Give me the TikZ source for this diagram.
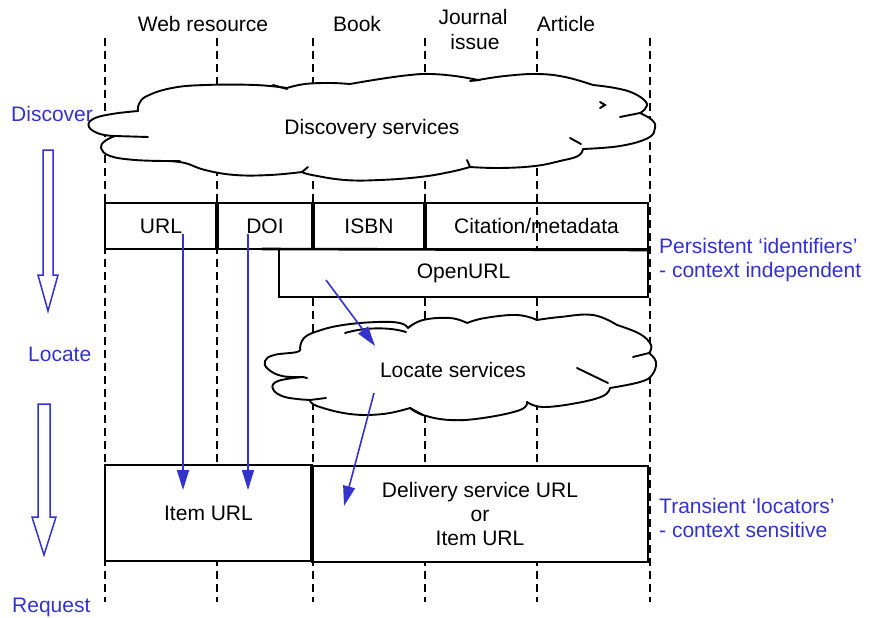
\documentclass[tikz,border=0pt]{standalone}
\usepackage{fontspec}
\setmainfont{Liberation Sans}
\usetikzlibrary{arrows.meta}
\definecolor{navy}{RGB}{51,51,204}
\newcommand\lbf{\fontsize{21}{24}\selectfont}
\begin{document}
\begin{tikzpicture}[x=1pt,y=-1pt,
  guide/.style={line width=1.4pt, dash pattern=on 8pt off 5pt},
  idbox/.style={draw, line width=2pt, minimum height=46pt, inner sep=0pt, font=\lbf},
  locbox/.style={draw, line width=2pt, fill=white, minimum height=96pt, inner sep=0pt, font=\lbf},
  lbl/.style={font=\lbf, inner sep=0pt},
  side/.style={font=\lbf, text=navy, inner sep=0pt, anchor=west, align=left},
  cloudline/.style={draw, fill=white, line width=1.9pt, line join=round, line cap=round},
  tail/.style={line width=1.9pt, line cap=round},
  link/.style={navy, line width=1.6pt, -{Triangle[length=20pt,width=12pt]}},
  flowarrow/.style={navy, line width=1.5pt, line join=miter}]
\useasboundingbox (0,0) rectangle (870,618);

% column guides
\foreach \x in {105,217,313,425,537,650}
  \draw[guide] (\x,38) -- (\x,602);

% column headings
\node[lbl] (hweb) at (203,24) {Web resource};
\node[lbl] (hbook) at (357,24) {Book};
\node[lbl] (hjour) at (473,17) {Journal};
\node[lbl] (hiss) at (475,42) {issue};
\node[lbl] (hart) at (566,24) {Article};

% persistent identifiers row
\node[idbox, minimum width=112pt] (url) at (161,226) {URL};
\node[idbox, minimum width=96pt] (doi) at (265,226) {DOI};
\node[idbox, minimum width=112pt] (isbn) at (369,226) {ISBN};
\node[idbox, minimum width=223pt] (cite) at (536.5,226) {Citation/metadata};
\foreach \x in {217,313,425}
  \draw[line width=3.5pt] (\x,203) -- (\x,249);
\node[idbox, fill=white, minimum width=369pt, minimum height=48pt] (openurl) at (463.5,273) {OpenURL};
\coordinate (ledge) at (262,249);
\draw[line width=2.6pt] (ledge) -- (cite.south east);

% discovery cloud
\filldraw[cloudline]
  plot[smooth, tension=.7] coordinates {(115,136) (100,134) (89,127) (93,119) (112,114) (138,111)}
  -- plot[smooth, tension=.7] coordinates {(138,111) (139,104) (147,96) (172,88) (205,85) (255,85) (287,88)}
  -- plot[smooth, tension=.7] coordinates {(287,88) (305,84) (330,83) (350,84)}
  -- plot[smooth, tension=.7] coordinates {(350,84) (380,79) (410,75) (430,74) (455,76) (478,80)}
  -- plot[smooth, tension=.7] coordinates {(478,80) (505,76) (537,74) (565,77) (593,85)}
  -- plot[smooth, tension=.7] coordinates {(593,85) (615,88) (633,93) (646,102) (645,109) (640,113)}
  -- plot[smooth, tension=.7] coordinates {(640,113) (652,120) (655,128) (648,138) (620,146) (583,149)}
  -- plot[smooth, tension=.7] coordinates {(583,149) (578,156) (560,161) (535,166) (500,168) (470,167)}
  -- plot[smooth, tension=.7] coordinates {(470,167) (450,172) (420,177) (380,180) (345,180) (312,175) (302,172)}
  -- plot[smooth, tension=.7] coordinates {(302,172) (270,175) (235,175) (205,170) (185,163) (167,161)}
  -- plot[smooth, tension=.7] coordinates {(167,161) (135,160) (110,156) (101,148) (105,141) (115,136)}
  -- cycle;
\draw[tail] (115,136) -- (148,137);
\draw[tail] (167,161) -- (180,161);
\draw[tail] (273,85) -- (287,89);
\draw[tail] (470,81) -- (480,80);
\draw[tail] (640,113) -- (620,117);
\draw[tail] (581,144) -- (570,138);
\draw[tail] (470,167) -- (467,160);
\draw[tail] (302,172) -- (308,167);
\draw[tail] (600,102) -- (605,105) -- (600,108);
\node[lbl] (disc) at (372,129) {Discovery services};

% locate cloud
\filldraw[cloudline]
  plot[smooth, tension=.7] coordinates {(303,377) (282,376) (268,369) (265,361) (274,355) (297,352) (300,348)}
  -- plot[smooth, tension=.7] coordinates {(300,348) (304,338) (318,331) (343,325) (377,322) (400,323) (408,328)}
  -- plot[smooth, tension=.7] coordinates {(408,328) (423,320) (450,318) (467,323)}
  -- plot[smooth, tension=.7] coordinates {(467,323) (485,318) (517,315) (537,320)}
  -- plot[smooth, tension=.7] coordinates {(537,320) (560,317) (593,315) (617,325)}
  -- plot[smooth, tension=.7] coordinates {(617,325) (640,334) (651,345) (649,353)}
  -- plot[smooth, tension=.7] coordinates {(649,353) (656,362) (652,375) (640,382) (610,388)}
  -- plot[smooth, tension=.7] coordinates {(610,388) (603,396) (577,403) (543,407) (527,402)}
  -- plot[smooth, tension=.7] coordinates {(527,402) (520,410) (483,418) (450,420) (423,415) (410,408)}
  -- plot[smooth, tension=.7] coordinates {(410,408) (383,414) (350,414) (317,406) (310,400)}
  -- plot[smooth, tension=.7] coordinates {(310,400) (285,397) (273,389) (278,381) (303,377)}
  -- cycle;
\draw[tail] (303,377) -- (307,378);
\draw[tail] (649,353) -- (633,357);
\draw[tail] (608,383) -- (577,368);
\draw[tail] (410,408) -- (423,415);
\draw[tail] (310,400) -- (326,398);
\draw[tail] (345,333) .. controls (365,327) and (390,327) .. (406,332);
\node[lbl] (loc) at (453,370) {Locate services};

% transient locators row
\node[locbox, minimum width=207pt] (item) at (208.5,513) {Item URL};
\node[locbox, minimum width=336pt, align=center] (deliv) at (480,514)
  {Delivery service URL\\or\\Item URL};
\draw[line width=3.5pt] (312,465) -- (312,561);

% stage labels
\node[side] (discover) at (11,114) {Discover};
\node[side] (locate) at (28,354) {Locate};
\node[side] (request) at (12,607) {Request};
\node[side] (persist) at (659,260) {Persistent ‘identifiers’\\- context independent};
\node[side] (transient) at (659,518) {Transient ‘locators’\\- context sensitive};

% stage flow arrows
\draw[flowarrow] (43,150) -- (53,150) -- (53,275) -- (58,275) -- (48,311) -- (38,275) -- (43,275) -- cycle;
\draw[flowarrow] (38,404) -- (50,404) -- (50,517) -- (56,517) -- (44,555) -- (32,517) -- (38,517) -- cycle;

% resolution links
\coordinate (urlA) at (183,234);
\coordinate (urlB) at (183,490);
\coordinate (doiA) at (248,234);
\coordinate (doiB) at (248,490);
\coordinate (ouA) at (326,280);
\coordinate (locA) at (375,346);
\coordinate (locB) at (374,393);
\coordinate (delA) at (344,506);
\draw[link] (urlA) -- (urlB);
\draw[link] (doiA) -- (doiB);
\draw[link] (ouA) -- (locA);
\draw[link] (locB) -- (delA);
\end{tikzpicture}
\end{document}
